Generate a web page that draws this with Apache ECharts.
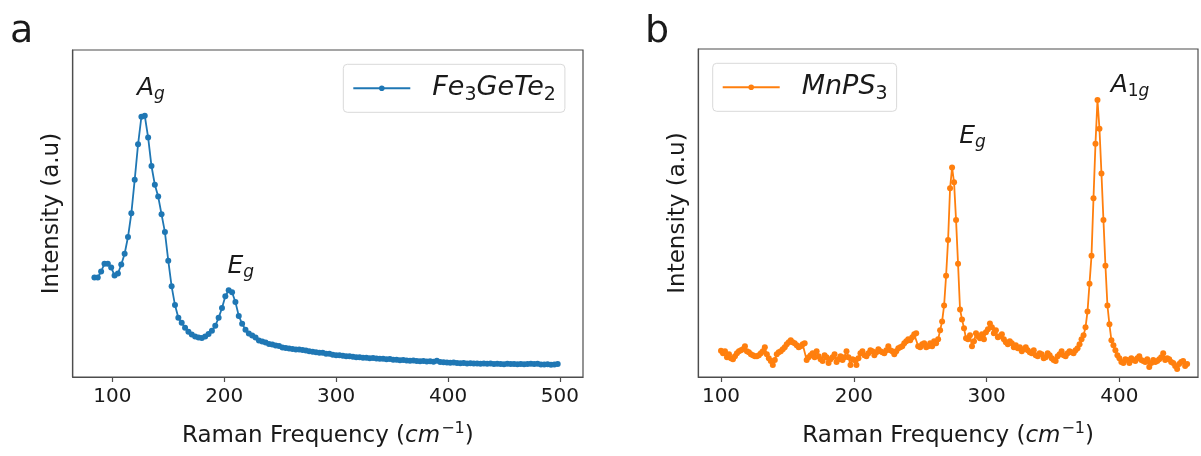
<!DOCTYPE html>
<html><head><meta charset="utf-8">
<script src="https://cdn.jsdelivr.net/npm/echarts@6/dist/echarts.min.js"></script>
<style>html,body{margin:0;padding:0;background:#fff}#c{width:1201px;height:456px}</style>
</head><body><div id="c"></div>
<script>
const FONT = 'DejaVu Sans';
const INK = '#1a1a1a';
const FRAME = '#4d4d4d';

// Panel a: Fe3GeTe2 Raman spectrum
const feX = [84,87,90,93,96,99,102,105,108,111,114,117,120,123,126,129,132,135,138,141,144,147,150,153,156,159,162,165,168,171,174,177,180,183,186,189,192,195,198,201,204,207,210,213,216,219,222,225,228,231,234,237,240,243,246,249,252,255,258,261,264,267,270,273,276,279,282,285,288,291,294,297,300,303,306,309,312,315,318,321,324,327,330,333,336,339,342,345,348,351,354,357,360,363,366,369,372,375,378,381,384,387,390,393,396,399,402,405,408,411,414,417,420,423,426,429,432,435,438,441,444,447,450,453,456,459,462,465,468,471,474,477,480,483,486,489,492,495,498];
const feY = [
101,101,107,115,115,111,103,105,114,125,
142,166,200,236,264,265,243,214,195,183,
165,147,118,92,73,60,55,50,46,43,
41,40,39.5,41,43.5,47,52,60,70,82,
88,86,76,62,54,48,44,42,40,37,
36,35,33.5,33,32,31.5,30,29.5,29,28.5,
28,28,27.5,27,26,25.5,25,24.5,24.5,23.5,
23.5,22.5,22,22,21.5,21,21,20.5,20,20,
19.5,19.5,19,19.3,18.8,18.5,18.5,18,18.2,17.5,
17.5,17,17.3,16.8,16.5,16.8,16.2,16,16.3,15.8,
16,15.5,16.5,15.3,15,14.8,14.5,14.8,14.3,14,
14.2,13.8,14,13.6,13.8,13.5,13.8,13.4,13.6,13.2,
13.5,13.3,13,13.4,13.1,13.3,13,13.2,12.9,13.3,
13.5,13.1,13.4,12.8,12.6,12.9,12.5,12.7,13.2];

// Panel b: MnPS3 Raman spectrum
const mnX = [
100,101.5,103,104.5,106,107.5,109,110.5,112,113.5,
115,116.5,118,119.5,121,122.5,124,125.5,127,128.5,
130,131.5,133,134.5,136,137.5,139,140.5,142,143.5,
145,146.5,148,149.5,151,152.5,154,155.5,157,158.5,
160,161.5,163,164.5,166,167.5,169,170.5,172,173.5,
175,176.5,178,179.5,181,182.5,184,185.5,187,188.5,
190,191.5,193,194.5,196,197.5,199,200.5,202,203.5,
205,206.5,208,209.5,211,212.5,214,215.5,217,218.5,
220,221.5,223,224.5,226,227.5,229,230.5,232,233.5,
235,236.5,238,239.5,241,242.5,244,245.5,247,248.5,
250,251.5,253,254.5,256,257.5,259,260.5,262,263.5,
265,266.5,268,269.5,271,272.5,274,275.5,277,278.5,
280,281.5,283,284.5,286,287.5,289,290.5,292,293.5,
295,296.5,298,299.5,301,302.5,304,305.5,307,308.5,
310,311.5,313,314.5,316,317.5,319,320.5,322,323.5,
325,326.5,328,329.5,331,332.5,334,335.5,337,338.5,
340,341.5,343,344.5,346,347.5,349,350.5,352,353.5,
355,356.5,358,359.5,361,362.5,364,365.5,367,368.5,
370,371.5,373,374.5,376,377.5,379,380.5,382,383.5,
385,386.5,388,389.5,391,392.5,394,395.5,397,398.5,
400,401.5,403,404.5,406,407.5,409,410.5,412,413.5,
415,416.5,418,419.5,421,422.5,424,425.5,427,428.5,
430,431.5,433,434.5,436,437.5,439,440.5,442,443.5,
445,446.5,448,449.5,451];
const mnY = [
26.5,24,26,20,23,19,18,21,24,26,
27,28,31,26,25,23,22,21,21,22,
24,26,30,23,19,16,12,17,23,25,
26,28,30,33,35,37,35,34,32,30,
31,33,34,17,20,22,24,20,26,21,
18,16,22,20,14,18,20,23,15,18,
21,17,20,26,20,12,18,17,12,19,
24,26,22,21,24,27,26,22,25,28,
26,25,24,27,31,27,26,23,26,29,
30,31,34,36,38,37,40,43,44,31,
30,33,34,30,31,34,31,36,34,38,
47,56,72,102,138,190,211,196,158,114,
68,58,49,39,38,42,31,36,44,41,
39,43,38,45,48,54,50,44,47,40,
41,43,38,35,33,36,34,30,32,29,
30,26,28,30,27,25,24,27,22,21,
24,23,19,20,24,22,19,17,16,21,
23,26,22,21,24,26,25,24,27,29,
33,38,42,50,66,94,122,180,235,279,
250,205,158,112,72,53,37,32,27,22,
19,15,14,18,17,14,19,17,16,19,
21,17,16,15,18,10,14,17,15,16,
18,20,24,17,19,18,15,14,11,8,
13,15,16,11,13];

const feTicks = [100,200,300,400,500];
const mnTicks = [100,200,300,400];
const feName = 'Fe3GeTe2';
const mnName = 'MnPS3';
const xTitle = '{t|Raman Frequency (}{i|cm}{u|−1}{t|)}';
const yTitle = 'Intensity (a.u)';

const mathRich = {
  m: {fontFamily: FONT, fontStyle: 'italic', fontSize: 25, lineHeight: 30, color: INK},
  s: {fontFamily: FONT, fontStyle: 'italic', fontSize: 17, lineHeight: 17, padding: [12,0,0,0], color: INK},
  d: {fontFamily: FONT, fontSize: 17, lineHeight: 17, padding: [12,0,0,0], color: INK}
};
const legRich = {
  sp: {width: 17},
  m: {fontFamily: FONT, fontStyle: 'italic', fontSize: 27, lineHeight: 32, color: INK},
  d: {fontFamily: FONT, fontSize: 19, lineHeight: 19, padding: [13,0,0,0], color: INK}
};
const titleRich = {
  t: {fontFamily: FONT, fontSize: 23, lineHeight: 30, color: INK},
  i: {fontFamily: FONT, fontStyle: 'italic', fontSize: 23, lineHeight: 30, color: INK},
  u: {fontFamily: FONT, fontSize: 16, lineHeight: 16, padding: [0,0,14,1], color: INK}
};

function xAxisCfg(grid, min, max, ticks) {
  return {
    type: 'value', gridIndex: grid, min: min, max: max,
    axisLine: {show: true, lineStyle: {color: FRAME, width: 1.2}},
    splitLine: {show: false},
    axisTick: {show: true, length: 5, customValues: ticks, lineStyle: {color: FRAME, width: 1.2}},
    axisLabel: {customValues: ticks, margin: 10, fontSize: 20, color: INK, fontFamily: FONT},
    name: xTitle, nameLocation: 'middle', nameGap: 44,
    nameTextStyle: {rich: titleRich}
  };
}
function yAxisCfg(grid, max) {
  return {
    type: 'value', gridIndex: grid, min: 0, max: max,
    axisLine: {show: true, lineStyle: {color: FRAME, width: 1.2}},
    axisTick: {show: false}, axisLabel: {show: false}, splitLine: {show: false},
    name: yTitle, nameLocation: 'middle', nameGap: 9,
    nameTextStyle: {fontFamily: FONT, fontSize: 23, color: INK}
  };
}
function legendCfg(name, left, top, fmt) {
  return {
    data: [name], left: left, top: top, orient: 'horizontal',
    padding: [8, 9, 8, 9], borderColor: '#d9d9d9', borderWidth: 1, borderRadius: 4,
    itemWidth: 57, itemHeight: 7, selectedMode: false,
    formatter: () => fmt, textStyle: {rich: legRich}
  };
}

const chart = echarts.init(document.getElementById('c'), null, {renderer: 'canvas'});
chart.setOption({
  animation: false,
  backgroundColor: '#fff',
  textStyle: {fontFamily: FONT},
  grid: [
    {left: 72.7, top: 50, width: 510.3, height: 331.7, show: true, borderColor: FRAME, borderWidth: 1.2},
    {left: 698.3, top: 49, width: 499.7, height: 330.3, show: true, borderColor: FRAME, borderWidth: 1.2}
  ],
  xAxis: [xAxisCfg(0, 64.6, 520.6, feTicks), xAxisCfg(1, 82.9, 459.2, mnTicks)],
  yAxis: [yAxisCfg(0, 331.7), yAxisCfg(1, 330.3)],
  legend: [
    legendCfg(feName, 343.3, 64.3, '{sp| }{m|Fe}{d|3}{m|GeTe}{d|2}'),
    legendCfg(mnName, 712.7, 63.3, '{sp| }{m|MnPS}{d|3}')
  ],
  graphic: [
    {type: 'text', x: 10, y: 13, style: {text: 'a', fontSize: 38, fontFamily: FONT, fill: INK}},
    {type: 'text', x: 645, y: 13, style: {text: 'b', fontSize: 38, fontFamily: FONT, fill: INK}}
  ],
  series: [
    {
      name: feName, type: 'line', xAxisIndex: 0, yAxisIndex: 0,
      data: feX.map((x, i) => [x, feY[i]]),
      symbol: 'circle', symbolSize: 6, showSymbol: true,
      color: '#1f77b4', lineStyle: {width: 1.8, color: '#1f77b4'},
      itemStyle: {color: '#1f77b4'},
      markPoint: {
        symbol: 'circle', symbolSize: 0, silent: true, animation: false,
        label: {show: true, position: 'inside', rich: mathRich},
        data: [
          {coord: [134.5, 292.7], label: {formatter: '{m|A}{s|g}'}},
          {coord: [214.8, 111.7], label: {formatter: '{m|E}{s|g}'}}
        ]
      }
    },
    {
      name: mnName, type: 'line', xAxisIndex: 1, yAxisIndex: 1,
      data: mnX.map((x, i) => [x, mnY[i]]),
      symbol: 'circle', symbolSize: 6, showSymbol: true,
      color: '#ff7f0e', lineStyle: {width: 1.8, color: '#ff7f0e'},
      itemStyle: {color: '#ff7f0e'},
      markPoint: {
        symbol: 'circle', symbolSize: 0, silent: true, animation: false,
        label: {show: true, position: 'inside', rich: mathRich},
        data: [
          {coord: [289.4, 241.7], label: {formatter: '{m|E}{s|g}'}},
          {coord: [408, 293.7], label: {formatter: '{m|A}{d|1}{s|g}'}}
        ]
      }
    }
  ]
});
</script>
</body></html>
